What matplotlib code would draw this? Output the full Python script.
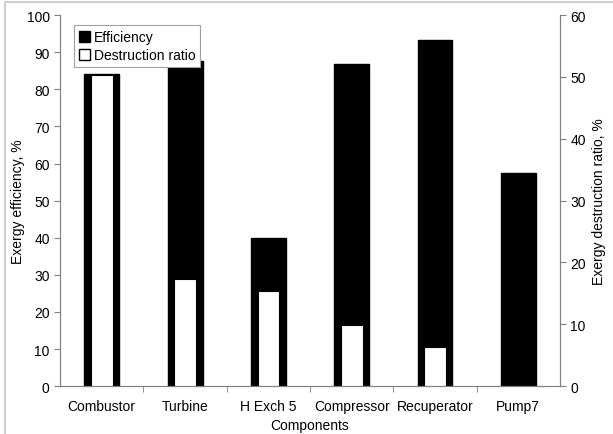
import matplotlib
matplotlib.use("Agg")
import matplotlib.pyplot as plt
from matplotlib.patches import Patch
from matplotlib.lines import Line2D
import numpy as np

plt.rcParams['font.family'] = ['Liberation Sans', 'DejaVu Sans']
plt.rcParams['font.size'] = 10

categories = ["Combustor", "Turbine", "H Exch 5", "Compressor", "Recuperator", "Pump7"]
efficiency = [84.0, 87.5, 39.8, 86.7, 93.2, 57.5]
destruction_ratio = [50.3, 17.3, 15.4, 9.9, 6.4, 0.0]

fig = plt.figure(figsize=(6.13, 4.35), dpi=100)
# light gray frame along the top and left edges of the picture
fig.lines.append(Line2D([0.008, 0.008, 1.0], [0.0, 0.994, 0.994], transform=fig.transFigure,
                        color='#d0d0d0', linewidth=1.5))
ax1 = fig.add_axes([0.098, 0.110, 0.8155, 0.853])
ax2 = ax1.twinx()

x = np.arange(len(categories))
ax1.bar(x, efficiency, width=0.42, color='black', edgecolor='black', zorder=2)
ax2.bar(x, destruction_ratio, width=0.26, color='white', edgecolor='black', linewidth=0.8, zorder=3)

ax1.set_xlim(-0.5, len(categories) - 0.5)
ax1.set_ylim(0, 100)
ax2.set_ylim(0, 60)
ax1.set_yticks(np.arange(0, 101, 10))
ax2.set_yticks(np.arange(0, 61, 10))
ax1.set_xticks(x)
ax1.set_xticklabels(categories)
ax1.set_xticks(np.arange(0.5, len(categories) - 0.5, 1), minor=True)
ax1.tick_params(axis='x', which='major', length=0, pad=9)
ax1.tick_params(axis='x', which='minor', length=4, color='#808080', direction='out')
ax1.tick_params(axis='y', length=4, color='#808080')
ax2.tick_params(axis='y', length=4, color='#808080')

for ax in (ax1, ax2):
    ax.spines['top'].set_visible(False)
    for s in ('left', 'right', 'bottom'):
        ax.spines[s].set_color('#808080')

ax1.set_xlabel("Components", labelpad=4)
ax1.set_ylabel("Exergy efficiency, %", labelpad=1)
ax2.set_ylabel("Exergy destruction ratio, %", labelpad=4)

handles = [Patch(facecolor='black', edgecolor='black', label='Efficiency'),
           Patch(facecolor='white', edgecolor='black', label='Destruction ratio')]
leg = ax2.legend(handles=handles, loc='upper left', bbox_to_anchor=(0.022, 0.98),
                 fancybox=False, framealpha=1, edgecolor='#a0a0a0',
                 handlelength=0.8, handleheight=0.8, handletextpad=0.3,
                 borderpad=0.35, labelspacing=0.3, borderaxespad=0.2)
leg.get_frame().set_linewidth(0.8)

fig.savefig("out.png", dpi=100)
